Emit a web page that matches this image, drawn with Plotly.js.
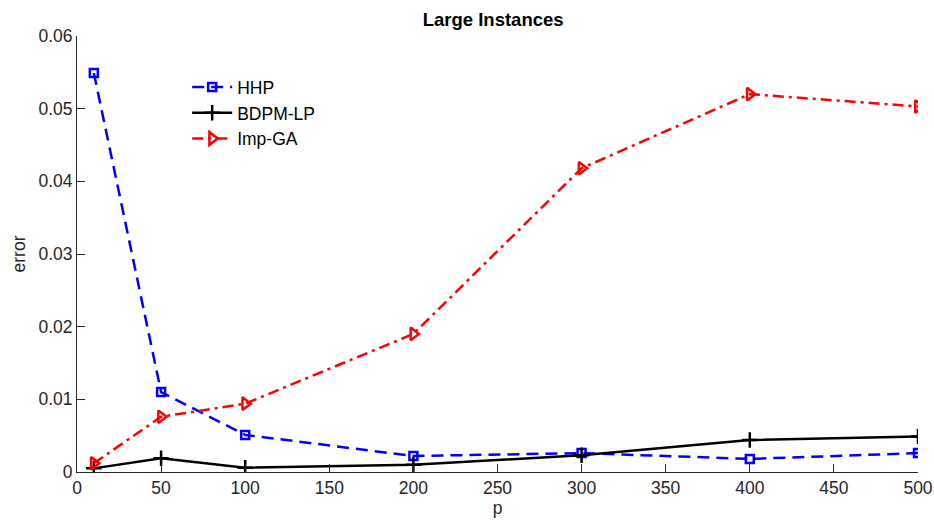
<!DOCTYPE html>
<html><head><meta charset="utf-8">
<script src="https://cdn.plot.ly/plotly-3.0.1.min.js"></script>
<style>body{margin:0;background:#fff}#c{width:934px;height:524px}</style>
</head><body><div id="c"></div>
<script>
const pValues = [10, 50, 100, 200, 300, 400, 500];
const hhpError = [0.0549, 0.0110, 0.0051, 0.0022, 0.0026, 0.0018, 0.0026];
const bdpmError = [0.0005, 0.0019, 0.0006, 0.0010, 0.0023, 0.0044, 0.0049];
const impGaError = [0.0012, 0.0076, 0.0094, 0.0190, 0.0418, 0.0520, 0.0503];
const xTicks = [0, 50, 100, 150, 200, 250, 300, 350, 400, 450, 500];
const yTicks = [0, 0.01, 0.02, 0.03, 0.04, 0.05, 0.06];
const yTickText = ['0', '0.01', '0.02', '0.03', '0.04', '0.05', '0.06'];

const FONT = 'Liberation Sans, Arial, sans-serif';
const traces = [
  {x: pValues, y: hhpError, name: 'HHP', mode: 'lines+markers',
   line: {color: '#0000ff', width: 2.5, dash: '12px,7px'},
   marker: {symbol: 'square-open', size: 8, color: '#0000ff', line: {width: 2.5, color: '#0000ff'}}},
  {x: pValues, y: bdpmError, name: 'BDPM-LP', mode: 'lines+markers',
   line: {color: '#000000', width: 2.5},
   marker: {symbol: 'cross-thin-open', size: 11, color: '#000000', line: {width: 2.5, color: '#000000'}}},
  {x: pValues, y: impGaError, name: 'Imp-GA', mode: 'lines+markers',
   line: {color: '#ff0000', width: 2.5, dash: '11px,5px,3px,5px'},
   marker: {symbol: 'triangle-right-open', size: 11, color: '#ff0000', line: {width: 2.5, color: '#ff0000'}}}
];

const axisCommon = {
  showgrid: false, zeroline: false, showline: true, linecolor: '#262626', linewidth: 1,
  ticks: 'inside', ticklen: 8, tickcolor: '#262626', tickwidth: 1,
  tickfont: {family: FONT, size: 17.5, color: '#262626'},
  mirror: false
};

const layout = {
  width: 934, height: 524,
  margin: {l: 77, r: 16, t: 36, b: 52},
  paper_bgcolor: '#fff', plot_bgcolor: '#fff',
  title: {text: '<b>Large Instances</b>', x: 0.528, xanchor: 'center', y: 0.962, yanchor: 'middle',
          font: {family: FONT, size: 18.5, color: '#000'}},
  xaxis: Object.assign({}, axisCommon, {range: [0, 500], tickvals: xTicks,
          title: {text: 'p', standoff: 4, font: {family: FONT, size: 17.5, color: '#262626'}}}),
  yaxis: Object.assign({}, axisCommon, {range: [0, 0.06], tickvals: yTicks, ticktext: yTickText,
          title: {text: 'error', standoff: 8, font: {family: FONT, size: 17.5, color: '#262626'}}}),
  showlegend: true,
  legend: {x: 0.131, y: 0.924, xanchor: 'left', yanchor: 'top', bgcolor: 'rgba(255,255,255,0)',
           font: {family: FONT, size: 17.5, color: '#000'},
           tracegroupgap: 0, itemwidth: 40}
};

Plotly.newPlot('c', traces, layout, {displayModeBar: false, staticPlot: true});
</script></body></html>
